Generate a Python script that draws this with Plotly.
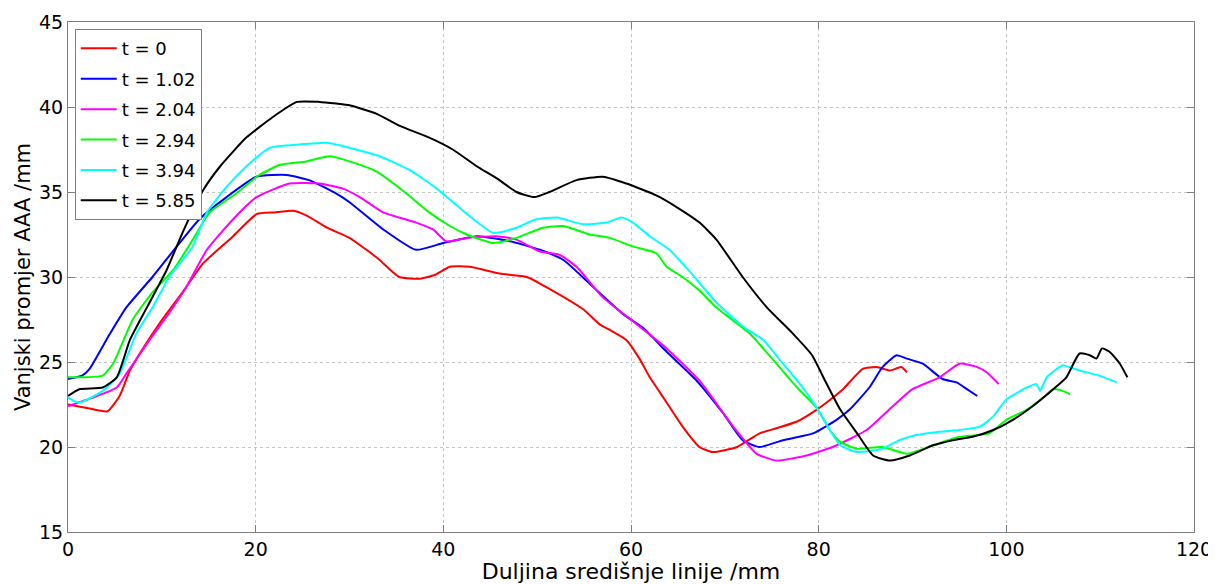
import plotly.graph_objects as go

# t = 0
x_t0 = [0, 2, 4.2, 5.5, 6.6, 8, 9.8, 12.2, 14.4, 17.6, 20.1, 22, 24, 25.5, 27.6, 30, 33, 35.3, 37.5, 39, 40.7, 42.8, 46, 48.9, 51.3, 54.9, 56.7, 57.7, 59.5, 60.9, 62, 63.1, 65.5, 67.3, 68.7, 71.3, 73.7, 75.5, 77.7, 79.8, 81.5, 82.6, 84.7, 86.2, 87.6, 88.8, 89.4]
y_t0 = [22.5, 22.3, 22.1, 23.0, 24.5, 25.8, 27.3, 29.1, 30.8, 32.4, 33.7, 33.8, 33.9, 33.6, 32.9, 32.3, 31.1, 30.0, 29.9, 30.1, 30.6, 30.6, 30.2, 30.0, 29.3, 28.1, 27.2, 26.9, 26.3, 25.2, 24.1, 23.2, 21.2, 20.0, 19.7, 20.0, 20.8, 21.1, 21.5, 22.2, 22.9, 23.4, 24.6, 24.7, 24.5, 24.7, 24.4]

# t = 1.02
x_t1 = [0, 1.5, 2.3, 4.4, 6.2, 9, 11.6, 14, 16.9, 20.1, 23.3, 25.7, 28.6, 30, 33.6, 37.1, 40, 43.6, 47.1, 50.3, 52.8, 55.6, 59.2, 61.3, 63.8, 67, 69.8, 71.9, 73.7, 76.2, 79.4, 81.9, 83.3, 85.4, 86.8, 88.3, 89.4, 91.1, 93.2, 94.7, 95.8, 96.9]
y_t1 = [24.0, 24.2, 24.6, 26.6, 28.2, 30.0, 31.8, 33.4, 34.7, 35.9, 36.0, 35.7, 34.9, 34.4, 32.8, 31.6, 32.0, 32.4, 32.1, 31.6, 31.0, 29.6, 27.8, 27.0, 25.6, 23.9, 22.0, 20.4, 20.0, 20.4, 20.8, 21.6, 22.2, 23.5, 24.7, 25.4, 25.2, 24.9, 24.0, 23.8, 23.4, 23.0]

# t = 2.04
x_t2 = [0, 2.6, 5.2, 6.2, 8.7, 10.8, 12.6, 14.8, 17.6, 20.1, 23.6, 26.8, 29.3, 31.1, 33.6, 37.1, 38.9, 40.3, 42.5, 45.7, 47.8, 50.3, 52.4, 54.2, 57, 60.2, 63.8, 67.3, 70.9, 73.4, 75.5, 78.7, 81.5, 85.1, 87.9, 90, 92.9, 95, 96.9, 97.9, 99.2]
y_t2 = [22.4, 22.9, 23.5, 24.3, 26.3, 27.9, 29.4, 31.6, 33.4, 34.7, 35.5, 35.5, 35.2, 34.7, 33.8, 33.2, 32.8, 32.1, 32.3, 32.4, 32.2, 31.5, 31.3, 30.6, 28.8, 27.4, 25.8, 23.9, 21.2, 19.6, 19.2, 19.5, 20.0, 21.0, 22.4, 23.4, 24.1, 24.9, 24.7, 24.4, 23.7]

# t = 2.94
x_t3 = [0, 3.7, 4.8, 6.9, 9, 11.2, 13.3, 15.1, 17.9, 20.4, 22.6, 25.4, 27.9, 30, 32.9, 36.1, 38.5, 40.7, 42.5, 45.3, 47.8, 50.6, 52.8, 55.6, 57.7, 60.2, 62.7, 63.8, 65.5, 67.3, 69.1, 72.6, 75.5, 77.7, 79.8, 81.2, 82.3, 84.1, 86.8, 89.4, 92.2, 95, 98.2, 100, 102.2, 103.9, 105, 106, 106.8]
y_t3 = [24.1, 24.2, 24.9, 27.5, 29.1, 30.4, 32.2, 33.8, 34.9, 36.0, 36.6, 36.8, 37.1, 36.8, 36.2, 34.9, 33.8, 33.0, 32.5, 32.0, 32.3, 32.9, 33.0, 32.5, 32.3, 31.8, 31.4, 30.6, 30.0, 29.2, 28.2, 26.7, 24.9, 23.5, 22.3, 21.0, 20.3, 19.9, 20.0, 19.6, 20.1, 20.6, 20.8, 21.6, 22.2, 22.9, 23.4, 23.3, 23.1]

# t = 3.94
x_t4 = [0, 1.2, 3.7, 5.5, 7.3, 9, 10.8, 13.3, 14.8, 16.9, 19, 21.5, 24.7, 27.6, 30, 33.2, 36.4, 39.3, 42.1, 45.3, 47.8, 49.9, 52.1, 54.9, 57.4, 59, 60.2, 62, 64.1, 66.3, 69.1, 71.9, 74.1, 76.2, 78.3, 79.8, 81.2, 82.3, 84.1, 86.8, 88.6, 90.4, 92.9, 95, 97.2, 98.6, 100, 102.2, 103.2, 103.6, 104.3, 106, 107.8, 109.9, 111.8]
y_t4 = [22.9, 22.6, 23.3, 24.3, 26.7, 28.2, 30.0, 31.8, 33.8, 35.3, 36.5, 37.6, 37.8, 37.9, 37.6, 37.1, 36.3, 35.2, 33.9, 32.6, 32.9, 33.4, 33.5, 33.1, 33.2, 33.5, 33.2, 32.4, 31.6, 30.3, 28.5, 27.1, 26.3, 24.9, 23.5, 22.3, 21.0, 20.1, 19.7, 19.9, 20.4, 20.7, 20.9, 21.0, 21.2, 21.8, 22.8, 23.5, 23.7, 23.3, 24.1, 24.8, 24.5, 24.2, 23.8]

# t = 5.85
x_t5 = [0, 1.2, 3.7, 5.2, 6.6, 8.4, 10.5, 12.2, 14.4, 16.2, 19, 21.8, 24.4, 26.8, 28.6, 30, 32.9, 35.3, 38.5, 41, 43.6, 45.7, 47.8, 49.7, 51.3, 54.2, 57, 59.5, 62.7, 64.9, 67.3, 69.1, 71.9, 74.5, 77.2, 79.3, 80.5, 82.3, 84.1, 85.8, 87.6, 89.7, 92.2, 94.3, 96.4, 98.6, 100.7, 102.8, 105, 106.4, 107.8, 108.9, 109.6, 110.2, 111, 112.1, 112.9]
y_t5 = [23.0, 23.4, 23.5, 24.1, 26.3, 28.2, 30.4, 32.6, 35.1, 36.5, 38.2, 39.4, 40.3, 40.3, 40.2, 40.1, 39.6, 38.9, 38.2, 37.5, 36.5, 35.8, 35.0, 34.7, 35.0, 35.7, 35.9, 35.5, 34.8, 34.1, 33.2, 32.2, 30.0, 28.2, 26.7, 25.4, 24.1, 22.2, 20.8, 19.5, 19.2, 19.5, 20.1, 20.4, 20.6, 21.0, 21.6, 22.4, 23.4, 24.1, 25.5, 25.4, 25.2, 25.8, 25.6, 24.9, 24.1]

series_names = ["t = 0", "t = 1.02", "t = 2.04", "t = 2.94", "t = 3.94", "t = 5.85"]
series_x = [x_t0, x_t1, x_t2, x_t3, x_t4, x_t5]
series_y = [y_t0, y_t1, y_t2, y_t3, y_t4, y_t5]
colors = ["#FF0000", "#0000FF", "#FF00FF", "#00FF00", "#00FFFF", "#000000"]

x_ticks = [0, 20, 40, 60, 80, 100, 120]
y_ticks = [15, 20, 25, 30, 35, 40, 45]

fig = go.Figure()
for name, xs, ys, c in zip(series_names, series_x, series_y, colors):
    fig.add_trace(go.Scatter(x=xs, y=ys, mode="lines", name=name, legendgroup=name,
                             line=dict(color=c, width=2, shape="spline", smoothing=0.5)))

font_family = "DejaVu Sans, Liberation Sans, Arial, sans-serif"
axis_common = dict(
    showgrid=True, gridcolor="#C4C4C4", griddash="dot", gridwidth=1,
    showline=True, linecolor="#808080", linewidth=1, mirror="ticks",
    ticks="inside", ticklen=7, tickcolor="#808080",
    zeroline=False, automargin=False,
    tickfont=dict(family=font_family, size=19, color="black"),
)

# the page body adds an 8 px offset, so the figure is sized to fit the window
fig.update_layout(
    width=1208, height=576,
    margin=dict(l=60, r=22, t=14, b=52),
    plot_bgcolor="white", paper_bgcolor="white",
    font=dict(family=font_family, color="black"),
    xaxis=dict(range=[0, 120], tickvals=x_ticks, **axis_common,
               title=dict(text="Duljina središnje linije /mm", font=dict(size=22), standoff=11)),
    yaxis=dict(range=[15, 45], tickvals=y_ticks, **axis_common,
               title=dict(text="Vanjski promjer AAA /mm", font=dict(size=21), standoff=2)),
    legend=dict(x=0.006, y=0.986, xanchor="left", yanchor="top",
                bgcolor="white", bordercolor="#808080", borderwidth=1,
                font=dict(family=font_family, size=18, color="black"),
                tracegroupgap=4, itemwidth=36),
    showlegend=True,
)

fig.write_html("out.html")
